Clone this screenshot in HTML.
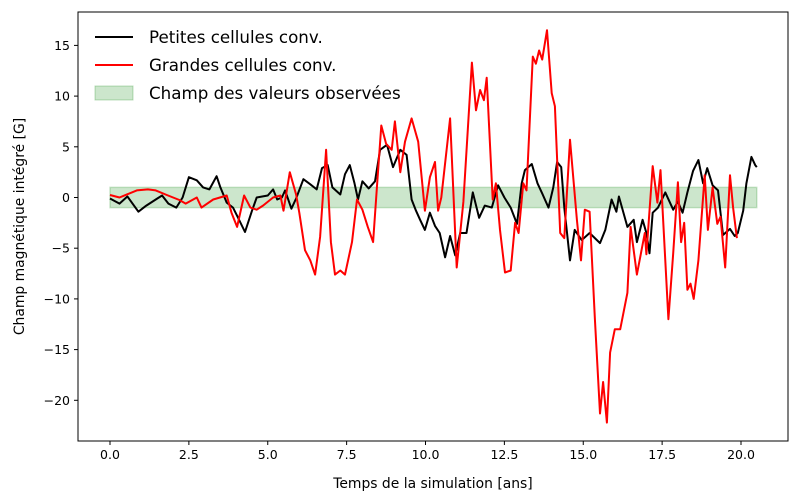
<!DOCTYPE html>
<html><head><meta charset="utf-8"><style>
body{margin:0;background:#fff;}
svg{display:block;font-family:"DejaVu Sans","Liberation Sans",sans-serif;}
</style></head><body>
<svg id="chart" width="800" height="503" viewBox="0 0 800 503"></svg>
<script>
const blackT=[0,0.3,0.55,0.9,1.15,1.5,1.65,1.85,2.1,2.3,2.5,2.75,2.95,3.15,3.38,3.5,3.7,3.9,4.06,4.28,4.5,4.65,5.0,5.17,5.3,5.45,5.55,5.75,5.9,6.13,6.35,6.55,6.72,6.9,7.05,7.3,7.45,7.6,7.75,7.86,8.0,8.2,8.4,8.56,8.78,8.97,9.2,9.4,9.56,9.7,9.83,9.98,10.14,10.3,10.45,10.62,10.78,10.94,11.1,11.3,11.5,11.7,11.88,12.1,12.3,12.5,12.7,12.9,13.05,13.15,13.37,13.55,13.7,13.9,14.05,14.17,14.3,14.4,14.58,14.73,14.95,15.2,15.53,15.7,15.9,16.05,16.13,16.4,16.6,16.7,16.88,17.0,17.1,17.2,17.37,17.6,17.85,18.0,18.15,18.3,18.48,18.65,18.8,18.93,19.1,19.27,19.43,19.65,19.8,19.9,20.07,20.17,20.33,20.45,20.5];
const blackV=[-0.1,-0.6,0.1,-1.4,-0.8,-0.1,0.2,-0.6,-1,0,2,1.7,1,0.8,2.1,1,-0.5,-1,-2,-3.4,-1.3,0,0.2,0.8,-0.2,0,0.7,-1.1,-0.1,1.8,1.3,0.8,2.9,3.2,1,0.3,2.3,3.2,1.4,-0.2,1.6,0.9,1.6,4.7,5.2,3,4.7,4.2,-0.2,-1.3,-2.2,-3.2,-1.5,-2.8,-3.5,-5.9,-3.8,-5.7,-3.5,-3.5,0.5,-2,-0.8,-1,1.2,0,-1,-2.6,1.4,2.7,3.3,1.4,0.4,-1,1,3.5,3,-1,-6.2,-3.2,-4.2,-3.5,-4.5,-3.2,-0.2,-1.4,0.1,-2.9,-2.2,-4.4,-2.2,-3.5,-5.5,-1.5,-1,0.5,-1.2,-0.4,-1.5,0.5,2.6,3.7,1.4,2.9,1.2,0.7,-3.7,-3.1,-3.8,-3.5,-1.3,1.4,4,3.2,3];
const redT=[0,0.3,0.85,1.2,1.45,1.8,2.2,2.4,2.75,2.9,3.27,3.7,3.85,4.03,4.25,4.45,4.65,4.85,5.17,5.4,5.5,5.7,5.9,6.0,6.18,6.35,6.5,6.66,6.85,7.0,7.13,7.3,7.45,7.67,7.83,8.0,8.17,8.34,8.46,8.6,8.75,8.93,9.03,9.2,9.35,9.56,9.77,9.98,10.14,10.3,10.4,10.5,10.78,10.99,11.2,11.47,11.6,11.73,11.85,11.94,12.13,12.23,12.36,12.52,12.7,12.84,12.95,13.1,13.2,13.4,13.5,13.6,13.7,13.85,14.0,14.1,14.27,14.4,14.58,14.8,14.93,15.05,15.2,15.37,15.53,15.63,15.75,15.85,16.0,16.17,16.4,16.5,16.7,16.95,17.0,17.2,17.35,17.45,17.7,17.85,18.0,18.1,18.2,18.3,18.4,18.5,18.65,18.85,18.95,19.1,19.25,19.35,19.5,19.65,19.75,19.87];
const redV=[0.25,0,0.7,0.8,0.7,0.25,-0.25,-0.6,0,-1,-0.2,0.2,-1.5,-2.9,0.2,-1,-1.2,-0.8,0,0.2,-1.3,2.5,0.3,-1.5,-5.2,-6.2,-7.6,-3.9,4.7,-4.4,-7.6,-7.2,-7.6,-4.4,-0.2,-1.2,-2.9,-4.4,1,7.1,5.3,4.7,7.5,2.5,5.5,7.8,5.5,-1.3,2,3.5,-1.3,0,7.8,-6.9,-0.4,13.3,8.6,10.6,9.6,11.8,-0.2,1.4,-3.2,-7.4,-7.2,-2.5,-3.5,1.4,0.7,13.9,13.2,14.5,13.6,16.5,10.3,9,-3.5,-4,5.7,-2.2,-6.2,-1.2,-1.4,-12,-21.3,-18.2,-22.2,-15.3,-13,-13,-9.4,-2.9,-7.6,-3.5,-5.6,3.1,-0.5,2.7,-12,-5.5,1.5,-4.4,-2.5,-9.1,-8.5,-10,-6.2,2.2,-3.2,1,-2.6,-1.9,-6.9,2.2,-1,-4];
const xTicks=[0,2.5,5,7.5,10,12.5,15,17.5,20];
const yTicks=[15,10,5,0,-5,-10,-15,-20];
const band=[0,20.5,-1,1];

const NS="http://www.w3.org/2000/svg";
const svg=document.getElementById('chart');
const L=78,R=788,T=12,B=441;
const X=t=>110+t*31.55;
const Y=v=>197.5-v*10.14;
function mk(tag,attrs,parent){const e=document.createElementNS(NS,tag);for(const k in attrs)e.setAttribute(k,attrs[k]);(parent||svg).appendChild(e);return e;}

const bandEl=mk('rect',{x:X(band[0]),y:Y(band[3]),width:X(band[1])-X(band[0]),height:Y(band[2])-Y(band[3]),fill:'rgba(0,128,0,0.2)',stroke:'rgba(0,128,0,0.2)','stroke-width':1.5});



function line(ts,vs,color,name){
  let d='';ts.forEach((t,i)=>{d+=(i?'L':'M')+X(t).toFixed(1)+','+Y(vs[i]).toFixed(1);});
  const p=mk('path',{d:d,fill:'none',stroke:color,'stroke-width':2,'stroke-linejoin':'round'});
  
  
}
line(blackT,blackV,'#000','small-cells-line');
line(redT,redV,'#ff0000','large-cells-line');

const frame=mk('rect',{x:L,y:T,width:R-L,height:B-T,fill:'none',stroke:'#000','stroke-width':1});



xTicks.forEach(t=>{
  mk('line',{x1:X(t),x2:X(t),y1:B,y2:B+4,stroke:'#000'});
  const tx=mk('text',{x:X(t),y:B+18,'text-anchor':'middle','font-size':12.5});
  tx.textContent=t.toFixed(1);
  
  
});
yTicks.forEach(v=>{
  mk('line',{x1:L-4,x2:L,y1:Y(v),y2:Y(v),stroke:'#000'});
  const tx=mk('text',{x:L-8,y:Y(v)+4.5,'text-anchor':'end','font-size':12.5});
  tx.textContent=(v<0?'\u2212'+(-v):String(v));
  
  
});
const xt=mk('text',{x:(L+R)/2,y:488,'text-anchor':'middle','font-size':13.9});
xt.textContent='Temps de la simulation [ans]';


const yt=mk('text',{x:24,y:(T+B)/2,'text-anchor':'middle','font-size':13.9,transform:'rotate(-90 24 '+((T+B)/2)+')'});
yt.textContent='Champ magnétique intégré [G]';



const lg=mk('g',{});


const items=[['line','#000','Petites cellules conv.',37],['line','#ff0000','Grandes cellules conv.',65],['patch','rgba(0,128,0,0.2)','Champ des valeurs observées',93]];
items.forEach(it=>{
  if(it[0]==='line') mk('line',{x1:95,x2:133,y1:it[3],y2:it[3],stroke:it[1],'stroke-width':2},lg);
  else mk('rect',{x:95,y:it[3]-7,width:38,height:14,fill:it[1],stroke:'rgba(0,128,0,0.25)'},lg);
  const tx=mk('text',{x:149,y:it[3]+6,'font-size':16.7},lg);
  tx.textContent=it[2];
  
  
});
</script>
</body></html>
